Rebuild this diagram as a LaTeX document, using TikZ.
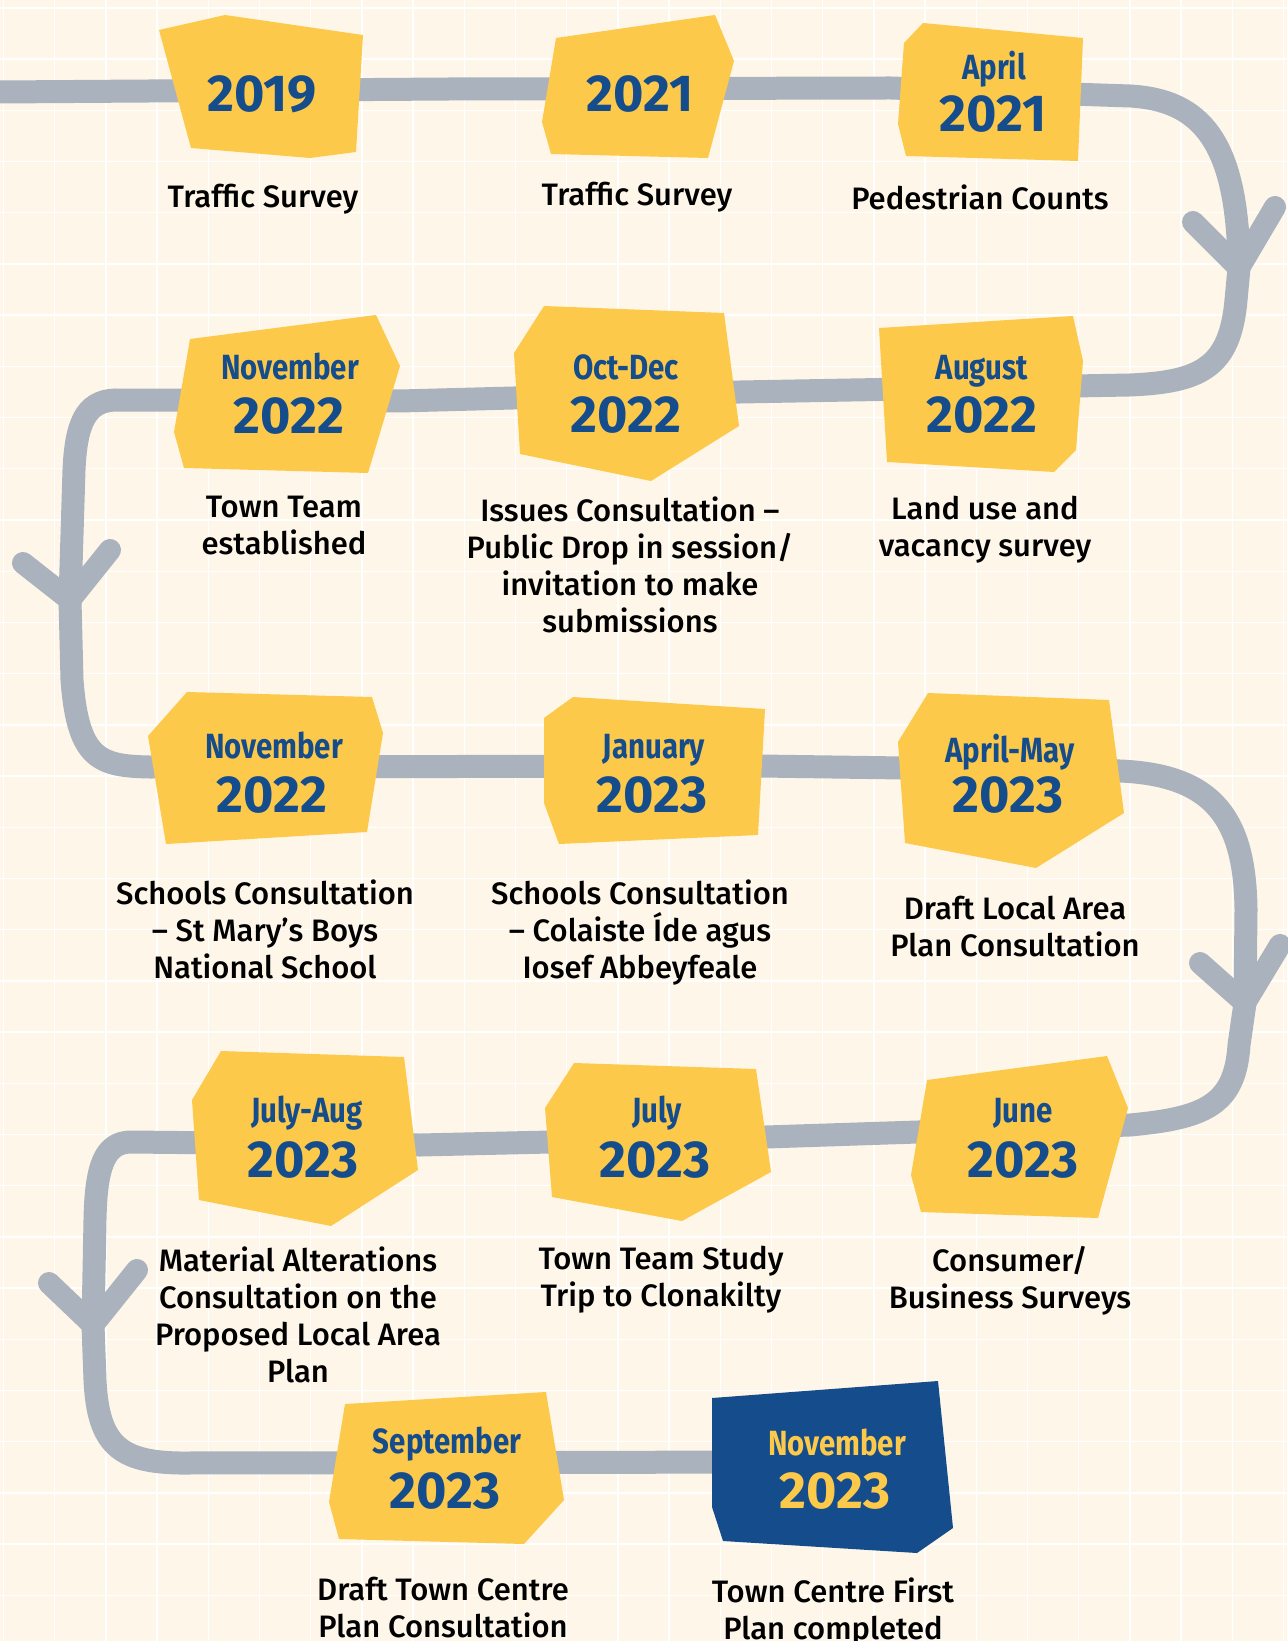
\documentclass[tikz,border=0pt]{standalone}
\usepackage{fontspec}
\IfFontExistsTF{Fira Sans Medium}{\setmainfont{Fira Sans Medium}}{\setmainfont{Fira Sans}}
\newfontfamily\datefont{Fira Sans}[FakeStretch=0.84]
\newfontfamily\yearfont{Fira Sans}
\definecolor{bgcream}{HTML}{FEF6E9}
\definecolor{tagyellow}{HTML}{FCC94A}
\definecolor{navy}{HTML}{154C8C}
\definecolor{trailgray}{HTML}{AAB3BD}
\begin{document}
\begin{tikzpicture}[x=0.5pt,y=-0.5pt,
  trail/.style={draw=trailgray, line width=11.5pt, line join=round},
  arm/.style={draw=trailgray, line width=11pt, line cap=round, line join=round},
  tag/.style={fill=tagyellow},
  lasttag/.style={fill=navy},
  gridline/.style={draw=white, line width=0.7pt},
  month/.style={anchor=base, inner sep=0pt, text=navy, font=\datefont\bfseries\fontsize{17.5}{20}\selectfont},
  year/.style={anchor=base, inner sep=0pt, text=navy, font=\yearfont\bfseries\fontsize{26}{29}\selectfont},
  lbl/.style={anchor=north, inner sep=0pt, align=center, text=black, font=\fontsize{15.5}{18.5}\selectfont}]
\useasboundingbox (0,0) rectangle (1287,1641);
\fill[bgcream] (0,0) rectangle (1287,1641);
\foreach \i in {0,...,25} {\draw[gridline] ({3.5+51.2*\i},0) -- ({3.5+51.2*\i},1641);}
\foreach \j in {0,...,32} {\draw[gridline] (0,{8+51.2*\j}) -- (1287,{8+51.2*\j});}

% trail waypoints
\coordinate (t0) at (0,92);
\coordinate (t1) at (450,89);
\coordinate (t2) at (890,88);
\coordinate (t3) at (1130,96);
\coordinate (a1) at (1239,268);
\coordinate (t4) at (1236,300);
\coordinate (t5) at (1130,385);
\coordinate (t6) at (740,392);
\coordinate (t7) at (400,401);
\coordinate (t8) at (115,400);
\coordinate (t9) at (74,470);
\coordinate (a3) at (70,600);
\coordinate (t10) at (72,680);
\coordinate (t11) at (150,767);
\coordinate (t12) at (760,766);
\coordinate (t13) at (1120,771);
\coordinate (t14) at (1246,910);
\coordinate (a2) at (1245,1003);
\coordinate (t15) at (1239,1045);
\coordinate (t16) at (1130,1125);
\coordinate (t17) at (766,1137);
\coordinate (t18) at (420,1145);
\coordinate (t19) at (130,1142);
\coordinate (t20) at (95,1220);
\coordinate (a4) at (93,1325);
\coordinate (t21) at (95,1380);
\coordinate (t22) at (180,1463);
\coordinate (t23) at (800,1462);
% arrow arm ends
\coordinate (a1l) at (1193,222); \coordinate (a1r) at (1275,207);
\coordinate (a2l) at (1200,963); \coordinate (a2r) at (1280,945);
\coordinate (a3l) at (23,563);   \coordinate (a3r) at (110,550);
\coordinate (a4l) at (49,1283);  \coordinate (a4r) at (137,1270);

\draw[trail] (t0) -- (t1) -- (t2) -- (t3) .. controls (1200,100) and (1238,140) .. (a1) -- (t4)
  .. controls (1230,368) and (1200,382) .. (t5) -- (t6) -- (t7) -- (t8)
  .. controls (85,401) and (76,425) .. (t9) -- (a3) -- (t10)
  .. controls (78,760) and (100,766) .. (t11) -- (t12) -- (t13)
  .. controls (1215,775) and (1245,820) .. (t14) -- (a2) -- (t15)
  .. controls (1235,1105) and (1205,1118) .. (t16) -- (t17) -- (t18) -- (t19)
  .. controls (105,1143) and (96,1165) .. (t20) -- (a4) -- (t21)
  .. controls (98,1445) and (120,1462) .. (t22) -- (t23);
\draw[arm] (a1l) -- (a1) -- (a1r);
\draw[arm] (a2l) -- (a2) -- (a2r);
\draw[arm] (a3l) -- (a3) -- (a3r);
\draw[arm] (a4l) -- (a4) -- (a4r);

% tags
\fill[tag] (159,30) -- (225,15) -- (363,35) -- (356,152) -- (310,158) -- (191,148) -- cycle;
\fill[tag] (556,38) -- (715,15) -- (734,61) -- (708,158) -- (551,154) -- (542,122) -- cycle;
\fill[tag] (904,43) -- (923,23) -- (1083,38) -- (1078,161) -- (906,156) -- (898,124) -- cycle;
\fill[tag] (190,339) -- (376,315) -- (400,366) -- (368,473) -- (184,468) -- (174,432) -- cycle;
\fill[tag] (514,353) -- (544,306) -- (724,313) -- (739,426) -- (651,481) -- (520,454) -- cycle;
\fill[tag] (879,328) -- (1073,316) -- (1083,361) -- (1076,450) -- (1054,472) -- (887,462) -- cycle;
\fill[tag] (148,736) -- (187,692) -- (372,697) -- (383,733) -- (367,832) -- (166,844) -- cycle;
\fill[tag] (544,718) -- (573,697) -- (765,709) -- (758,835) -- (559,844) -- (544,803) -- cycle;
\fill[tag] (898,742) -- (928,693) -- (1109,700) -- (1124,813) -- (1036,868) -- (905,843) -- cycle;
\fill[tag] (192,1100) -- (221,1051) -- (404,1057) -- (418,1170) -- (331,1226) -- (199,1200) -- cycle;
\fill[tag] (545,1108) -- (574,1063) -- (756,1069) -- (771,1172) -- (682,1221) -- (552,1197) -- cycle;
\fill[tag] (927,1080) -- (1107,1056) -- (1128,1108) -- (1098,1218) -- (921,1212) -- (911,1175) -- cycle;
\fill[tag] (345,1404) -- (546,1392) -- (564,1500) -- (524,1544) -- (339,1539) -- (329,1502) -- cycle;
\fill[lasttag] (712,1398) -- (938,1381) -- (953,1528) -- (917,1553) -- (723,1541) -- (712,1507) -- cycle;

% dates
\node[year] (y1) at (262,112) {2019};
\node[year] (y2) at (640,112) {2021};
\node[month] (m3) at (994,80) {April};
\node[year] (y3) at (993,132) {2021};
\node[month] (m4) at (290,380) {November};
\node[year] (y4) at (289,434) {2022};
\node[month] (m5) at (626,380) {Oct-Dec};
\node[year] (y5) at (626,433) {2022};
\node[month] (m6) at (982,380) {August};
\node[year] (y6) at (982,433) {2022};
\node[month] (m7) at (274,758) {November};
\node[year] (y7) at (272,812) {2022};
\node[month] (m8) at (654,758) {January};
\node[year] (y8) at (652,812) {2023};
\node[month] (m9) at (1010,762) {April-May};
\node[year] (y9) at (1008,812) {2023};
\node[month] (m10) at (307,1122) {July-Aug};
\node[year] (y10) at (303,1177) {2023};
\node[month] (m11) at (657,1122) {July};
\node[year] (y11) at (655,1177) {2023};
\node[month] (m12) at (1023,1122) {June};
\node[year] (y12) at (1023,1177) {2023};
\node[month] (m13) at (447,1453) {September};
\node[year] (y13) at (445,1508) {2023};
\node[month, text=tagyellow] (m14) at (837,1455) {November};
\node[year, text=tagyellow] (y14) at (835,1508) {2023};

% labels
\node[lbl] (l1) at (263,184) {Traffic Survey};
\node[lbl] (l2) at (637,182) {Traffic Survey};
\node[lbl] (l3) at (980,184) {Pedestrian Counts};
\node[lbl] (l4) at (284,496) {Town Team\\established};
\node[lbl] (l5) at (630,496) {Issues Consultation –\\Public Drop in session/\\invitation to make\\submissions};
\node[lbl] (l6) at (985,496) {Land use and\\vacancy survey};
\node[lbl] (l7) at (265,879) {Schools Consultation\\– St Mary’s Boys\\National School};
\node[lbl] (l8) at (640,879) {Schools Consultation\\– Colaiste Íde agus\\Iosef Abbeyfeale};
\node[lbl] (l9) at (1015,896) {Draft Local Area\\Plan Consultation};
\node[lbl] (l10) at (298,1246) {Material Alterations\\Consultation on the\\Proposed Local Area\\Plan};
\node[lbl] (l11) at (661,1246) {Town Team Study\\Trip to Clonakilty};
\node[lbl] (l12) at (1010,1246) {Consumer/\\Business Surveys};
\node[lbl] (l13) at (443,1577) {Draft Town Centre\\Plan Consultation};
\node[lbl] (l14) at (833,1577) {Town Centre First\\Plan completed};
\end{tikzpicture}
\end{document}
